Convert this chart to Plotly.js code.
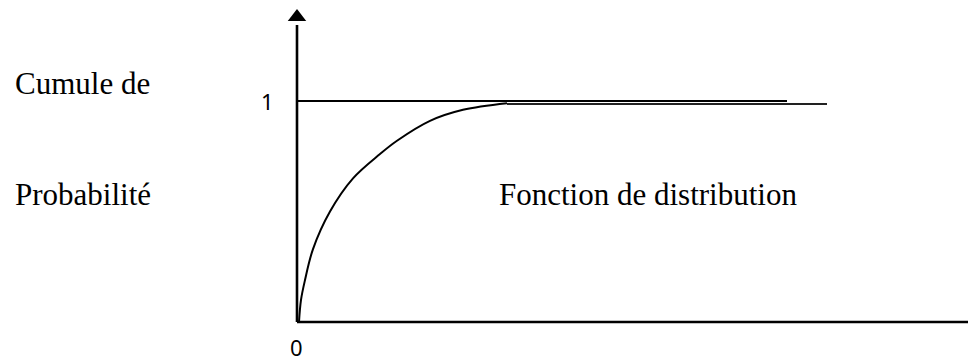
<!DOCTYPE html>
<html>
<head>
<meta charset="utf-8">
<script src="https://cdn.plot.ly/plotly-3.0.1.min.js"></script>
<style>html,body{margin:0;padding:0;background:#fff;}#chart{width:974px;height:362px;}</style>
</head>
<body>
<div id="chart"></div>
<script>
// Cumulative distribution curve
const curveX = [0.02, 0.04, 0.08, 0.16, 0.33, 0.56, 0.83, 1.00, 1.33, 1.66, 2.10];
const curveY = [0.00, 0.10, 0.19, 0.33, 0.50, 0.65, 0.76, 0.82, 0.91, 0.96, 0.99];
// Plateau continuing the curve
const plateauX = [2.10, 5.30];
const plateauY = [0.986, 0.986];
// Reference level y = 1
const levelX = [0, 4.90];
const levelY = [1, 1];
// Axes extents
const yAxisX = [0, 0];
const yAxisY = [0, 1.344];
const xAxisX = [0, 6.71];
const xAxisY = [0, 0];
// Texts
const tickLabels = ["0", "1"];
const leftLabels = ["Cumule de", "Probabilité"];
const curveLabel = "Fonction de distribution";

const black = "#000";
const traces = [
  {x: yAxisX, y: yAxisY, mode: "lines", line: {color: black, width: 2.6}, hoverinfo: "skip"},
  {x: xAxisX, y: xAxisY, mode: "lines", line: {color: black, width: 2.6}, hoverinfo: "skip"},
  {x: [yAxisX[1]], y: [1.38], mode: "markers", marker: {symbol: "triangle-up", size: 16, color: black}, cliponaxis: false, hoverinfo: "skip"},
  {x: [6.79], y: [xAxisY[1]], mode: "markers", marker: {symbol: "triangle-right", size: 16, color: black}, cliponaxis: false, hoverinfo: "skip"},
  {x: levelX, y: levelY, mode: "lines", line: {color: black, width: 2}, hoverinfo: "skip"},
  {x: plateauX, y: plateauY, mode: "lines", line: {color: "#222", width: 2}, hoverinfo: "skip"},
  {x: curveX, y: curveY, mode: "lines", line: {color: black, width: 2, shape: "spline", smoothing: 1.0}, hoverinfo: "skip"}
];

const serif = {family: "Liberation Serif, Times New Roman, serif", size: 31, color: black};
const sans = {family: "Noto Sans, Liberation Sans, sans-serif", size: 22, color: black};

const layout = {
  width: 974, height: 362,
  margin: {l: 0, r: 0, t: 0, b: 0},
  paper_bgcolor: "#fff", plot_bgcolor: "#fff",
  showlegend: false,
  xaxis: {range: [-2.97, 6.77], visible: false, fixedrange: true},
  yaxis: {range: [-0.181, 1.457], visible: false, fixedrange: true},
  annotations: [
    {x: -0.01, y: -0.112, text: tickLabels[0], showarrow: false, font: sans, xanchor: "center", yanchor: "middle"},
    {x: -0.30, y: 1.0, text: tickLabels[1], showarrow: false, font: sans, xanchor: "center", yanchor: "middle"},
    {x: -2.84, y: 1.081, text: leftLabels[0], showarrow: false, font: serif, xanchor: "left", yanchor: "middle"},
    {x: -2.84, y: 0.575, text: leftLabels[1], showarrow: false, font: serif, xanchor: "left", yanchor: "middle"},
    {x: 2.00, y: 0.575, text: curveLabel, showarrow: false, font: serif, xanchor: "left", yanchor: "middle"}
  ]
};

Plotly.newPlot("chart", traces, layout, {displayModeBar: false, staticPlot: true});
</script>
</body>
</html>
